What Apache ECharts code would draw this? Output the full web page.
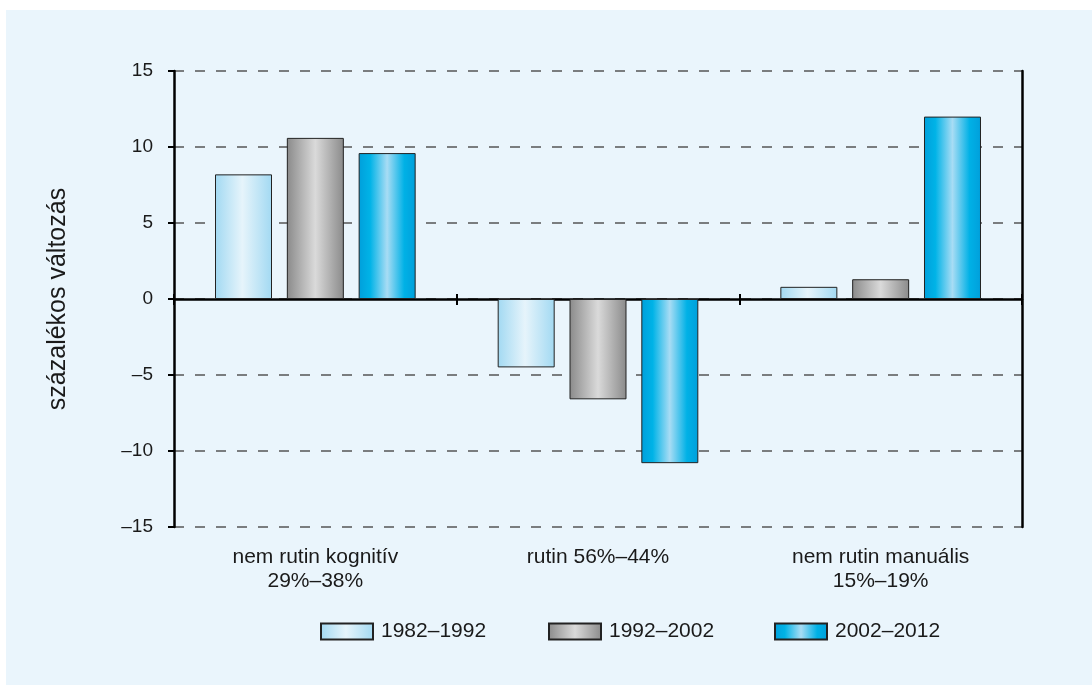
<!DOCTYPE html>
<html>
<head>
<meta charset="utf-8">
<script src="https://cdn.jsdelivr.net/npm/echarts@6/dist/echarts.min.js"></script>
<style>
  html, body { margin: 0; padding: 0; background: #ffffff; width: 1092px; height: 685px; overflow: hidden; }
  #bg { position: absolute; left: 6px; top: 10px; right: 0; bottom: 0; background: #eaf5fc; }
  #chart { position: absolute; left: 0; top: 0; width: 1092px; height: 685px; }
</style>
</head>
<body>
<div id="bg"></div>
<div id="chart"></div>
<script>
// ---- data ----
const categories = ['nem rutin kognitív\n29%–38%', 'rutin 56%–44%', 'nem rutin manuális\n15%–19%'];
const seriesNames = ['1982–1992', '1992–2002', '2002–2012'];
const values1982 = [8.2, -4.5, 0.8];
const values1992 = [10.6, -6.6, 1.3];
const values2002 = [9.6, -10.8, 12.0];
const yTicks = { min: -15, max: 15, interval: 5 };

// ---- styles ----
function hGrad(stops) {
  return new echarts.graphic.LinearGradient(0, 0, 1, 0, stops.map(s => ({ offset: s[0], color: s[1] })));
}
const fills = [
  hGrad([[0, '#a2d9f2'], [0.48, '#e6f4fb'], [1, '#a2d9f2']]),
  hGrad([[0, '#8a8a8a'], [0.5, '#dadada'], [1, '#8a8a8a']]),
  hGrad([[0, '#009fdb'], [0.2, '#00b3e7'], [0.5, '#a8dcf4'], [0.8, '#00b1e6'], [1, '#009fdb']])
];
const valueSets = [values1982, values1992, values2002];
const textColor = '#1a1a1a';
const font = 'Liberation Sans, Arial, Helvetica, sans-serif';

const chart = echarts.init(document.getElementById('chart'), null, { renderer: 'canvas' });

const series = seriesNames.map((name, i) => ({
  name: name,
  type: 'bar',
  xAxisIndex: 1,
  yAxisIndex: 0,
  data: valueSets[i],
  barWidth: 57,
  barGap: '26%',
  itemStyle: { color: fills[i], borderColor: '#222222', borderWidth: 1 },
  emphasis: { disabled: true },
  animation: false
}));

const legendLefts = [320, 548, 774];
const legends = seriesNames.map((name, i) => ({
  data: [{ name: name, icon: 'rect' }],
  left: legendLefts[i],
  top: 621,
  padding: 0,
  itemWidth: 52,
  itemHeight: 16,
  selectedMode: false,
  textStyle: { fontSize: 21, color: textColor, fontFamily: font, padding: [0, 0, 0, 3] }
}));

const option = {
  animation: false,
  textStyle: { fontFamily: font },
  grid: { left: 174, right: 70, top: 71, bottom: 158, containLabel: false },
  legend: legends,
  xAxis: [
    {
      type: 'category',
      data: categories,
      position: 'bottom',
      axisLine: { show: false, onZero: false },
      axisTick: { show: false },
      axisLabel: { fontSize: 21, lineHeight: 24, color: textColor, margin: 18, fontFamily: font, interval: 0 },
      splitLine: { show: false }
    },
    {
      type: 'category',
      data: categories,
      position: 'bottom',
      axisLine: { show: true, onZero: true, lineStyle: { color: '#000000', width: 2.5 } },
      axisTick: { show: true, length: 6, lineStyle: { color: '#000000', width: 2 } },
      axisLabel: { show: false },
      splitLine: { show: false }
    },
    {
      type: 'category',
      data: categories,
      position: 'bottom',
      axisLine: { show: false, onZero: true },
      axisTick: { show: true, inside: true, length: 5, lineStyle: { color: '#000000', width: 2 } },
      axisLabel: { show: false },
      splitLine: { show: false }
    }
  ],
  yAxis: [
    {
      type: 'value',
      min: yTicks.min,
      max: yTicks.max,
      interval: yTicks.interval,
      name: 'százalékos változás',
      nameLocation: 'middle',
      nameGap: 103,
      nameTextStyle: { fontSize: 25, color: textColor, fontFamily: font },
      axisLine: { show: true, onZero: false, lineStyle: { color: '#000000', width: 2.5 } },
      axisTick: { show: true, length: 6, lineStyle: { color: '#000000', width: 2 } },
      axisLabel: {
        fontSize: 19, color: textColor, margin: 21, fontFamily: font,
        formatter: v => String(v).replace('-', '–')
      },
      splitLine: { show: true, lineStyle: { color: '#555555', width: 1.5, type: [10, 11] } }
    },
    {
      type: 'value',
      min: yTicks.min,
      max: yTicks.max,
      interval: yTicks.interval,
      position: 'right',
      axisLine: { show: true, onZero: false, lineStyle: { color: '#000000', width: 2.5 } },
      axisTick: { show: false },
      axisLabel: { show: false },
      splitLine: { show: false }
    }
  ],
  series: series
};

chart.setOption(option);
</script>
</body>
</html>
